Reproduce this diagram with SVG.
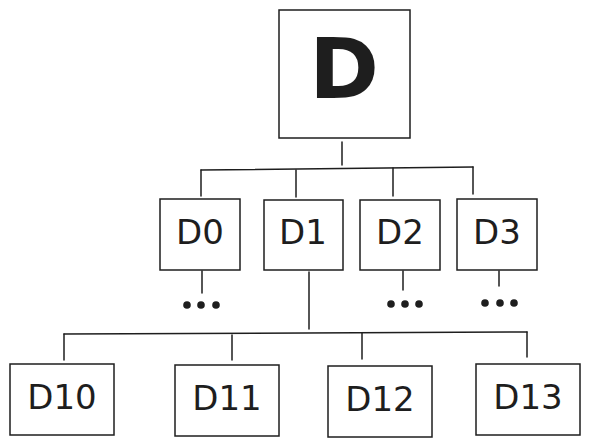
<svg xmlns="http://www.w3.org/2000/svg" width="590" height="447" viewBox="0 0 590 447">
<style>
.box{fill:#fff;stroke:#1e1e1e;stroke-width:1.5}
.ln{fill:none;stroke:#1e1e1e;stroke-width:1.5;stroke-linecap:round}
.t{font-family:"DejaVu Sans",sans-serif;font-size:34px;fill:#1e1e1e;text-anchor:middle}
.big{font-family:"DejaVu Sans",sans-serif;font-size:84px;font-weight:bold;fill:#1e1e1e;text-anchor:middle}
.dot{fill:#1e1e1e}
</style>
<rect width="590" height="447" fill="#fff"/>
<g id="connectors">
<path class="ln" d="M342 142 V165"/>
<path class="ln" d="M201 170 L473 167"/>
<path class="ln" d="M201 170 V196"/>
<path class="ln" d="M296 170 V197"/>
<path class="ln" d="M393 168 V196"/>
<path class="ln" d="M473 167 V194"/>
<path class="ln" d="M202 271 V293"/>
<path class="ln" d="M403 271 V290"/>
<path class="ln" d="M499 271 V286"/>
<path class="ln" d="M309 272 V329"/>
<path class="ln" d="M64 334 L527 332"/>
<path class="ln" d="M64 334 V360"/>
<path class="ln" d="M232 335 V360"/>
<path class="ln" d="M362 333 V359"/>
<path class="ln" d="M527 332 V357"/>
</g>
<g id="dots">
<circle class="dot" cx="187" cy="305" r="3.8"/><circle class="dot" cx="201" cy="305" r="3.8"/><circle class="dot" cx="216" cy="305" r="3.8"/>
<circle class="dot" cx="391" cy="304" r="3.8"/><circle class="dot" cx="405" cy="304" r="3.8"/><circle class="dot" cx="419" cy="304" r="3.8"/>
<circle class="dot" cx="485" cy="303" r="3.8"/><circle class="dot" cx="500" cy="303" r="3.8"/><circle class="dot" cx="514" cy="303" r="3.8"/>
</g>
<g id="D"><rect class="box" x="279" y="10" width="131" height="128"/><text class="big" x="344" y="98">D</text></g>
<g id="D0"><rect class="box" x="160" y="199" width="80" height="71"/><text class="t" x="200" y="244">D0</text></g>
<g id="D1"><rect class="box" x="264" y="200" width="79" height="70"/><text class="t" x="303" y="244">D1</text></g>
<g id="D2"><rect class="box" x="360" y="200" width="80" height="70"/><text class="t" x="400" y="244">D2</text></g>
<g id="D3"><rect class="box" x="457" y="199" width="80" height="71"/><text class="t" x="497" y="244">D3</text></g>
<g id="D10"><rect class="box" x="10" y="364" width="104" height="71"/><text class="t" x="62" y="409">D10</text></g>
<g id="D11"><rect class="box" x="175" y="365" width="104" height="71"/><text class="t" x="227" y="410">D11</text></g>
<g id="D12"><rect class="box" x="328" y="366" width="104" height="71"/><text class="t" x="380" y="411">D12</text></g>
<g id="D13"><rect class="box" x="476" y="364" width="104" height="71"/><text class="t" x="528" y="409">D13</text></g>
</svg>
